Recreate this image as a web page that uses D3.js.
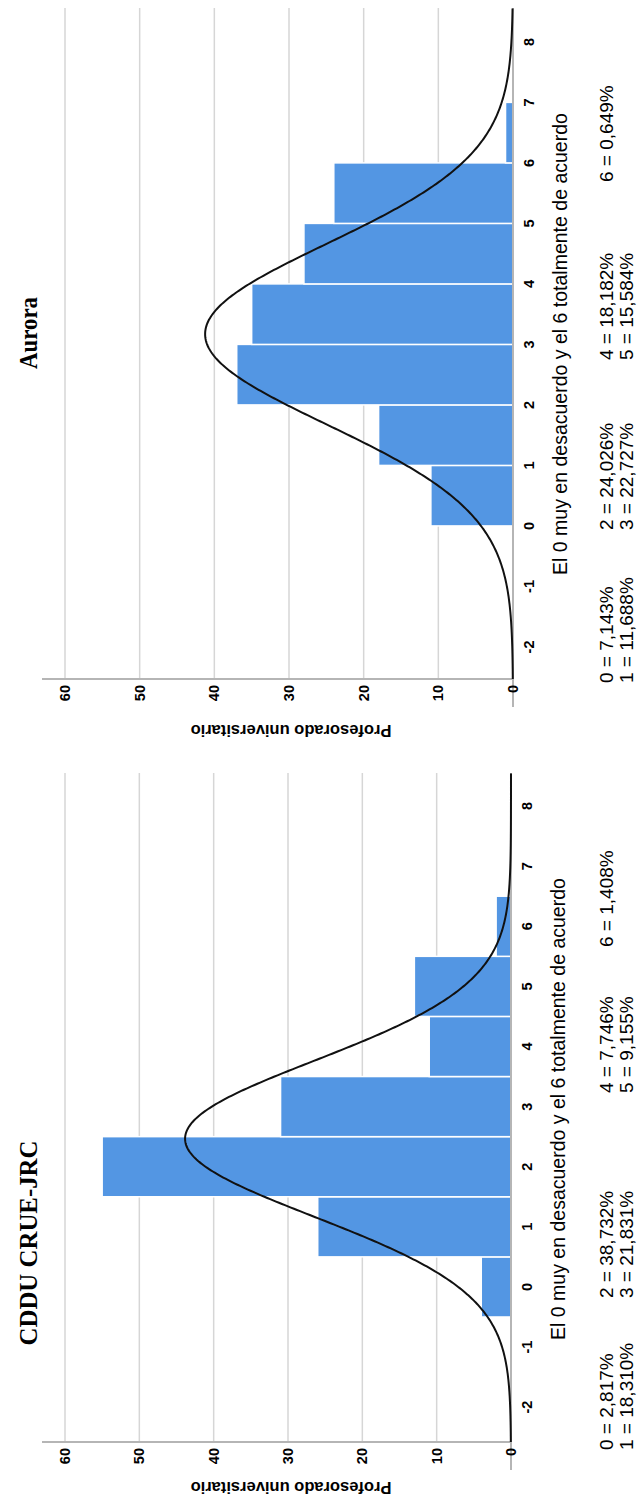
<!DOCTYPE html>
<html>
<head>
<meta charset="utf-8">
<script src="https://cdn.jsdelivr.net/npm/d3@7"></script>
<style>
  body { margin: 0; background: #fff; }
</style>
</head>
<body>
<div id="chart"></div>
<script>
// Values
const categories = [0, 1, 2, 3, 4, 5, 6];
const cdduCounts = [4, 26, 55, 31, 11, 13, 2];
const auroraCounts = [11, 18, 37, 35, 28, 24, 1];
const cdduPercents = ["2,817", "18,310", "38,732", "21,831", "7,746", "9,155", "1,408"];
const auroraPercents = ["7,143", "11,688", "24,026", "22,727", "18,182", "15,584", "0,649"];
const xTicks = [-2, -1, 0, 1, 2, 3, 4, 5, 6, 7, 8];
const yTicks = [0, 10, 20, 30, 40, 50, 60];
const titles = ["CDDU CRUE-JRC", "Aurora"];
const xTitle = "El 0 muy en desacuerdo y el 6 totalmente de acuerdo";
const yTitle = "Profesorado universitario";

// Fitted normal curve (mean, sd, n) for each group
const cdduFit = [2.465, 1.292, 142];
const auroraFit = [3.17, 1.49, 154];

// The chart is drawn landscape (1504 x 640) and turned a quarter turn
const W = 1504, H = 640;

const svg = d3
  .select("#chart")
  .append("svg")
  .attr("width", 640)
  .attr("height", 1504);

const root = svg
  .append("g")
  .attr("transform", `translate(0, ${W}) rotate(-90)`);

function drawPanel(p) {
  const g = root.append("g");

  // Scales
  const x = d3.scaleLinear().domain(p.xDomain).range(p.xRange);
  const y = d3.scaleLinear().domain([0, 60]).range([p.y0, 65]);
  const yTop = 42;
  const x0 = p.xRange[0], x1 = p.xRange[1];

  // Gridlines
  g.selectAll("line.grid")
    .data(yTicks.filter((d) => d > 0))
    .enter()
    .append("line")
    .attr("x1", x0)
    .attr("x2", x1)
    .attr("y1", (d) => y(d))
    .attr("y2", (d) => y(d))
    .attr("stroke", "#d6d6d6")
    .attr("stroke-width", 1.5);

  // Bars
  g.selectAll("rect")
    .data(categories)
    .enter()
    .append("rect")
    .attr("x", (d) => x(d + p.binStart))
    .attr("width", (d) => x(d + p.binStart + 1) - x(d + p.binStart))
    .attr("y", (d, i) => y(p.counts[i]))
    .attr("height", (d, i) => p.y0 - y(p.counts[i]))
    .attr("fill", "#5396e3")
    .attr("stroke", "#fff")
    .attr("stroke-width", 1.5);

  // Axis lines
  g.append("line")
    .attr("x1", x0).attr("x2", x0)
    .attr("y1", yTop).attr("y2", p.y0)
    .attr("stroke", "#b5b5b5").attr("stroke-width", 2);
  g.append("line")
    .attr("x1", x0 - 28).attr("x2", x1)
    .attr("y1", p.y0).attr("y2", p.y0)
    .attr("stroke", "#b5b5b5").attr("stroke-width", 2);

  // Normal curve
  const [mean, sd, n] = p.fit;
  const pts = d3.range(p.xDomain[0], p.xDomain[1] + 0.001, 0.02).map((v) => [
    v,
    (n / (sd * Math.sqrt(2 * Math.PI))) * Math.exp(-0.5 * ((v - mean) / sd) ** 2),
  ]);
  g.append("path")
    .datum(pts)
    .attr("fill", "none")
    .attr("stroke", "#111")
    .attr("stroke-width", 2)
    .attr("d", d3.line().x((d) => x(d[0])).y((d) => y(d[1])));

  // X tick labels
  g.selectAll("text.xt")
    .data(xTicks)
    .enter()
    .append("text")
    .attr("x", (d) => x(d))
    .attr("y", p.y0 + 21)
    .attr("text-anchor", "middle")
    .attr("font-family", "Liberation Sans, Arial, sans-serif")
    .attr("font-weight", "bold")
    .attr("font-size", 14.5)
    .text((d) => d);

  // Y tick labels
  g.selectAll("text.yt")
    .data(yTicks)
    .enter()
    .append("text")
    .attr("x", x0 - 6)
    .attr("y", (d) => y(d) + 5)
    .attr("text-anchor", "end")
    .attr("font-family", "Liberation Sans, Arial, sans-serif")
    .attr("font-weight", "bold")
    .attr("font-size", 14.5)
    .text((d) => d);

  // Y axis title
  g.append("text")
    .attr("transform", `translate(${p.yTitleX}, 291) rotate(-90)`)
    .attr("text-anchor", "middle")
    .attr("font-family", "Liberation Sans, Arial, sans-serif")
    .attr("font-weight", "bold")
    .attr("font-size", 16.5)
    .text(yTitle);

  // X axis title
  g.append("text")
    .attr("x", p.xTitleX)
    .attr("y", p.xTitleY)
    .attr("text-anchor", "middle")
    .attr("font-family", "Liberation Sans, Arial, sans-serif")
    .attr("font-size", 19.5)
    .text(xTitle);

  // Chart title
  g.append("text")
    .attr("x", p.titleX)
    .attr("y", 37)
    .attr("text-anchor", "middle")
    .attr("font-family", "Liberation Serif, Times New Roman, serif")
    .attr("font-weight", "bold")
    .attr("font-size", 26)
    .attr("textLength", p.titleLen)
    .attr("lengthAdjust", "spacingAndGlyphs")
    .text(p.title);

  // Percent legend under the axis title
  categories.forEach((c, i) => {
    g.append("text")
      .attr("x", p.pctCols[Math.floor(i / 2)])
      .attr("y", 613 + (i % 2) * 20)
      .attr("font-family", "Liberation Sans, Arial, sans-serif")
      .attr("font-size", 19)
      .text(`${c} = ${p.percents[i]}%`);
  });
}

drawPanel({
  title: titles[0],
  titleX: 261,
  titleLen: 205,
  counts: cdduCounts,
  percents: cdduPercents,
  fit: cdduFit,
  binStart: -0.5,
  xDomain: [-2.58, 8.55],
  xRange: [62, 731],
  y0: 511,
  yTitleX: 22,
  xTitleX: 395,
  xTitleY: 565,
  pctCols: [54, 206, 411, 557],
});

drawPanel({
  title: titles[1],
  titleX: 1171,
  titleLen: 72,
  counts: auroraCounts,
  percents: auroraPercents,
  fit: auroraFit,
  binStart: 0,
  xDomain: [-2.53, 8.56],
  xRange: [825, 1496],
  y0: 513,
  yTitleX: 779,
  xTitleX: 1160,
  xTitleY: 567,
  pctCols: [821, 974, 1144, 1322],
});
</script>
</body>
</html>
